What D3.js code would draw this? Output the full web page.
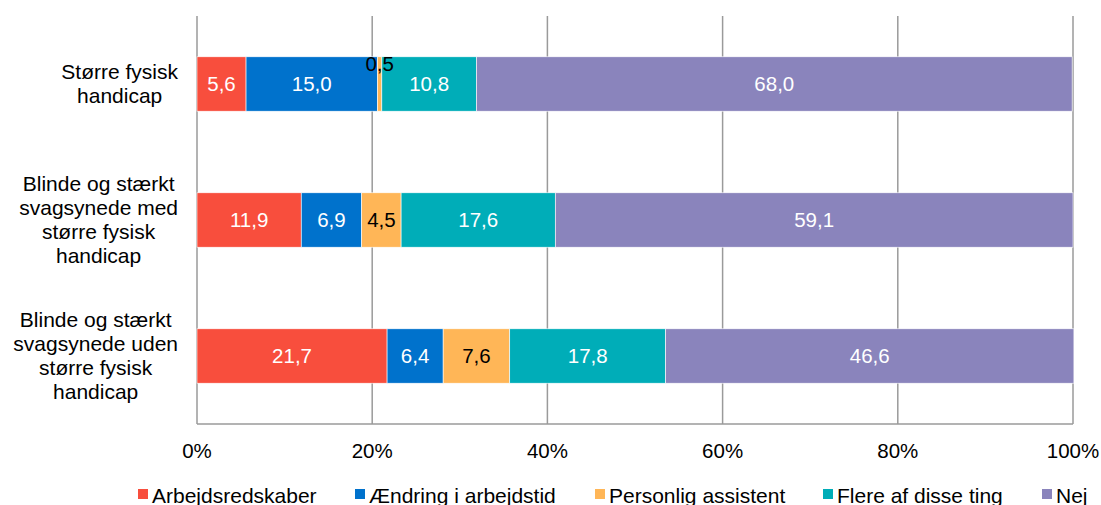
<!DOCTYPE html>
<html>
<head>
<meta charset="utf-8">
<script src="https://cdn.jsdelivr.net/npm/d3@7"></script>
<style>
  body { margin: 0; background: #fff; }
  svg { display: block; font-family: "Liberation Sans", Arial, sans-serif; }
</style>
</head>
<body>
<svg width="1101" height="505"></svg>
<script>
const categories = [
    "Større fysisk handicap",
    "Blinde og stærkt svagsynede med større fysisk handicap",
    "Blinde og stærkt svagsynede uden større fysisk handicap"
];
const categoryLines = [
    ["Større fysisk", "handicap"],
    ["Blinde og stærkt", "svagsynede med", "større fysisk", "handicap"],
    ["Blinde og stærkt", "svagsynede uden", "større fysisk", "handicap"]
];
const seriesNames = ["Arbejdsredskaber", "Ændring i arbejdstid", "Personlig assistent", "Flere af disse ting", "Nej"];
const seriesColors = ["#F84E3D", "#0072CC", "#FFB657", "#00ADB8", "#8A84BC"];
const labelColors = ["#fff", "#fff", "#000", "#fff", "#fff"];
const arbejdsredskaber = [5.6, 11.9, 21.7];
const aendring = [15.0, 6.9, 6.4];
const personlig = [0.5, 4.5, 7.6];
const flere = [10.8, 17.6, 17.8];
const nej = [68.0, 59.1, 46.6];
const tickValues = [0, 20, 40, 60, 80, 100];

const svg = d3.select("svg");
const margin = { left: 197, right: 28, top: 16, bottom: 81 };
const width = 1101 - margin.left - margin.right;
const height = 505 - margin.top - margin.bottom;

const x = d3.scaleLinear().domain([0, 100]).range([margin.left, margin.left + width]);
const y = d3.scaleBand().domain(categories)
    .range([margin.top, margin.top + height])
    .paddingInner(0.6).paddingOuter(0.3);

const table = categories.map((c, i) => ({
    cat: c,
    [seriesNames[0]]: arbejdsredskaber[i],
    [seriesNames[1]]: aendring[i],
    [seriesNames[2]]: personlig[i],
    [seriesNames[3]]: flere[i],
    [seriesNames[4]]: nej[i]
}));
const stack = d3.stack().keys(seriesNames)(table);

// gridlines
svg.append("g")
    .selectAll("line").data(tickValues).enter().append("line")
    .attr("x1", d => x(d)).attr("x2", d => x(d))
    .attr("y1", margin.top).attr("y2", margin.top + height)
    .attr("stroke", "#9a9a9a").attr("stroke-width", 1.5);

// bottom axis line
svg.append("line")
    .attr("x1", x(0)).attr("x2", x(100))
    .attr("y1", margin.top + height).attr("y2", margin.top + height)
    .attr("stroke", "#9a9a9a").attr("stroke-width", 1.5);

// tick labels
svg.append("g")
    .selectAll("text").data(tickValues).enter().append("text")
    .attr("x", d => x(d)).attr("y", 458)
    .attr("text-anchor", "middle")
    .attr("font-size", "20.5px").attr("fill", "#000")
    .text(d => d + "%");

// bars
const groups = svg.append("g").selectAll("g").data(stack).enter().append("g")
    .attr("fill", (d, i) => seriesColors[i]);
groups.selectAll("rect").data(d => d).enter().append("rect")
    .attr("x", d => x(d[0]))
    .attr("width", d => x(d[1]) - x(d[0]))
    .attr("y", d => y(d.data.cat))
    .attr("height", y.bandwidth())
    .attr("stroke", "#fff").attr("stroke-width", 0.6);

// value labels
stack.forEach((s, si) => {
    s.forEach(d => {
        const v = d[1] - d[0];
        const small = v < 2;
        svg.append("text")
            .attr("x", (x(d[0]) + x(d[1])) / 2)
            .attr("y", small ? y(d.data.cat) + 14 : y(d.data.cat) + y.bandwidth() / 2 + 7)
            .attr("text-anchor", "middle")
            .attr("font-size", "20.5px")
            .attr("fill", small ? "#000" : labelColors[si])
            .text(v.toFixed(1).replace(".", ","));
    });
});

// category labels
categories.forEach((c, i) => {
    const lines = categoryLines[i];
    const g = svg.append("g");
    const lh = 24.3;
    const cy = y(c) + y.bandwidth() / 2;
    const t = g.append("text").attr("font-size", "21px").attr("fill", "#000").attr("text-anchor", "middle");
    lines.forEach((l, j) => {
        t.append("tspan").attr("x", 0)
            .attr("y", cy - (lines.length - 1) * lh / 2 + j * lh + 7)
            .text(l);
    });
    let maxW = 0;
    t.selectAll("tspan").each(function() { maxW = Math.max(maxW, this.getComputedTextLength()); });
    t.attr("transform", "translate(" + (178 - maxW / 2) + ",0)");
});

// legend
const legendX = [138, 355, 595, 823, 1042];
const legend = svg.append("g").selectAll("g").data(seriesNames).enter().append("g")
    .attr("transform", (d, i) => "translate(" + legendX[i] + ",0)");
legend.append("rect")
    .attr("x", 0).attr("y", 489).attr("width", 10).attr("height", 10)
    .attr("fill", (d, i) => seriesColors[i]);
legend.append("text")
    .attr("x", 14).attr("y", 503)
    .attr("font-size", "21px").attr("fill", "#000")
    .text(d => d);
</script>
</body>
</html>
